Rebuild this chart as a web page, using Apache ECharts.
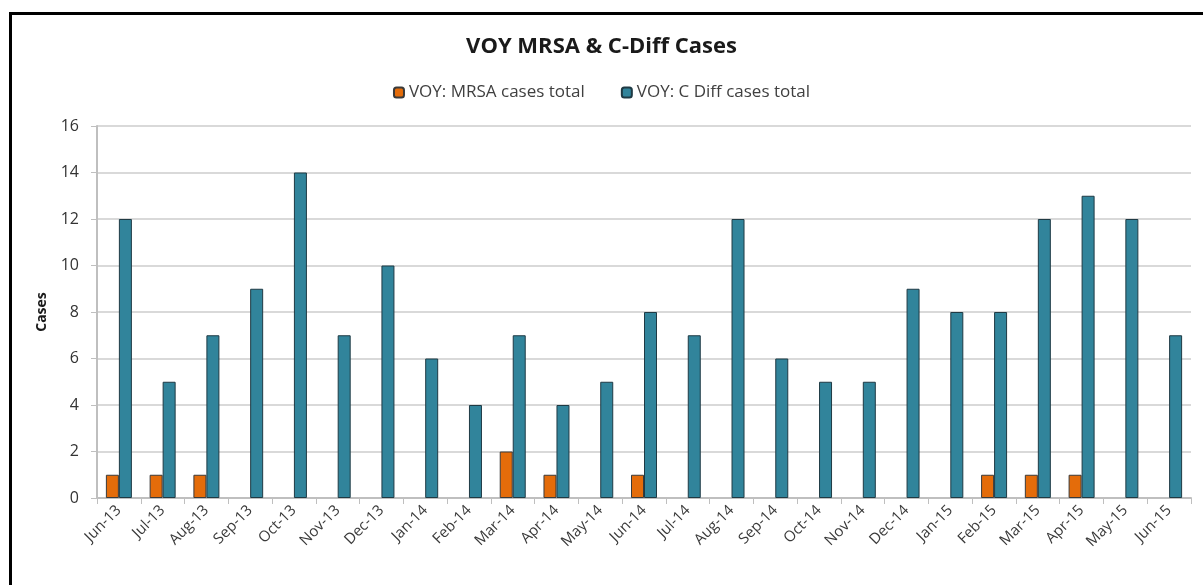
<!DOCTYPE html>
<html>
<head>
<meta charset="utf-8">
<script src="https://cdn.jsdelivr.net/npm/echarts@6/dist/echarts.min.js"></script>
<style>
  body { margin: 0; background: #fff; }
  #frame { position: absolute; left: 9px; top: 12px; width: 1300px; height: 700px; border: 3px solid #000; box-sizing: border-box; }
  #main { position: absolute; left: 0; top: 0; width: 1203px; height: 585px; }
</style>
</head>
<body>
<div id="frame"></div>
<div id="main"></div>
<script>
// months and values
var months = ['Jun-13', 'Jul-13', 'Aug-13', 'Sep-13', 'Oct-13', 'Nov-13', 'Dec-13', 'Jan-14', 'Feb-14', 'Mar-14',
  'Apr-14', 'May-14', 'Jun-14', 'Jul-14', 'Aug-14', 'Sep-14', 'Oct-14', 'Nov-14', 'Dec-14', 'Jan-15',
  'Feb-15', 'Mar-15', 'Apr-15', 'May-15', 'Jun-15']
var mrsa = [1, 1, 1, 0, 0, 0, 0, 0, 0, 2, 1, 0, 1, 0, 0, 0, 0, 0, 0, 0, 1, 1, 1, 0, 0]
var cdiff = [12, 5, 7, 9, 14, 7, 10, 6, 4, 7, 4, 5, 8, 7, 12, 6, 5, 5, 9, 8, 8, 12, 13, 12, 7]

// zero months draw no bar at all in the original
function hideZero (v) { return v === 0 ? null : v }

var font = '"Open Sans", "Liberation Sans", sans-serif'
var myChart = echarts.init(document.getElementById('main'))
var option = {
  animation: false,
  title: {
    text: 'VOY MRSA & C-Diff Cases',
    left: 'center',
    top: 31,
    textStyle: { fontFamily: font, fontSize: 22, fontWeight: 'bold', color: '#1a1a1a' }
  },
  legend: {
    top: 79,
    left: 'center',
    itemWidth: 10,
    itemHeight: 10,
    itemGap: 36,
    textStyle: { fontFamily: font, fontSize: 17, color: '#404040' },
    data: ['VOY: MRSA cases total', 'VOY: C Diff cases total']
  },
  grid: { left: 97, right: 12, top: 126, bottom: 87 },
  xAxis: {
    type: 'category',
    data: months,
    axisLine: { lineStyle: { color: '#bfbfbf', width: 2 } },
    axisTick: { show: true, length: 6, lineStyle: { color: '#bfbfbf' } },
    axisLabel: { rotate: 45, interval: 0, margin: 10, fontFamily: font, fontSize: 15, color: '#3a3a3a' }
  },
  yAxis: {
    type: 'value',
    min: 0,
    max: 16,
    interval: 2,
    name: 'Cases',
    nameLocation: 'middle',
    nameGap: 48,
    nameTextStyle: { fontFamily: font, fontSize: 14, fontWeight: 'bold', color: '#1a1a1a' },
    axisLine: { show: true, lineStyle: { color: '#bfbfbf', width: 2 } },
    axisTick: { show: true, length: 6, lineStyle: { color: '#bfbfbf' } },
    axisLabel: { margin: 18, fontFamily: font, fontSize: 16, color: '#333' },
    splitLine: { lineStyle: { color: '#d9d9d9', width: 2 } }
  },
  series: [
    {
      name: 'VOY: MRSA cases total',
      type: 'bar',
      data: mrsa.map(hideZero),
      barWidth: 13,
      barGap: '0%',
      itemStyle: { color: '#e46c0a', borderColor: '#3a3a3a', borderWidth: 1 }
    },
    {
      name: 'VOY: C Diff cases total',
      type: 'bar',
      data: cdiff.map(hideZero),
      barWidth: 13,
      itemStyle: { color: '#31849b', borderColor: '#1f3a44', borderWidth: 1 }
    }
  ]
}
myChart.setOption(option)
</script>
</body>
</html>
